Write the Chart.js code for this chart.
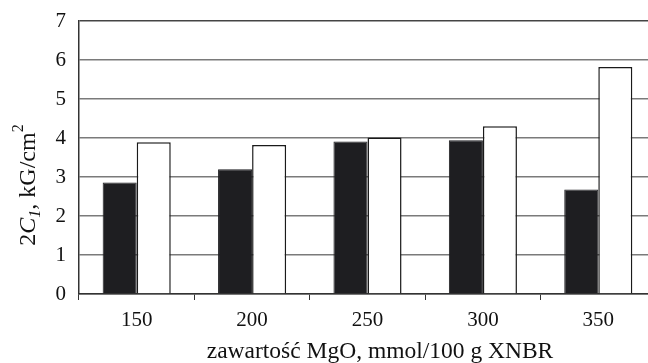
<!DOCTYPE html>
<html lang="pl">
<head>
    <meta charset="UTF-8">
    <title>2C1 vs MgO</title>
    <script src="https://cdn.jsdelivr.net/npm/chart.js"></script>
    <style>
        html, body {
            margin: 0;
            padding: 0;
            background: #fff;
            overflow: hidden;
        }
        .wrap {
            position: relative;
            width: 664px;
            height: 363px;
        }
    </style>
</head>
<body>
    <div class="wrap">
        <canvas id="chart" width="664" height="363"></canvas>
    </div>

    <script>
        // MgO content, mmol/100 g XNBR
        const categories = ['150', '200', '250', '300', '350'];
        // 2C1, kG/cm2
        const darkSeries = [2.86, 3.20, 3.91, 3.94, 2.68];
        const lightSeries = [3.89, 3.82, 4.01, 4.30, 5.82];
        const yTicks = [0, 1, 2, 3, 4, 5, 6, 7];
        const xTitle = 'zawartość MgO, mmol/100 g XNBR';

        const serif = "'Liberation Serif', 'DejaVu Serif', serif";

        // axis titles drawn by hand: italic C, sub/superscripts
        const titlesPlugin = {
            id: 'titles',
            afterDraw(chart) {
                const ctx = chart.ctx;
                const size = 24;
                const parts = [
                    { t: '2', font: `${size}px ${serif}`, dy: 0 },
                    { t: 'C', font: `italic ${size}px ${serif}`, dy: 0 },
                    { t: '1', font: `italic ${Math.round(size * 0.65)}px ${serif}`, dy: 5 },
                    { t: ', kG/cm', font: `${size}px ${serif}`, dy: 0 },
                    { t: '2', font: `${Math.round(size * 0.65)}px ${serif}`, dy: -12 }
                ];
                ctx.save();
                let total = 0;
                parts.forEach(p => { ctx.font = p.font; p.w = ctx.measureText(p.t).width; total += p.w; });
                ctx.translate(35, 185);
                ctx.rotate(-Math.PI / 2);
                ctx.fillStyle = '#111';
                ctx.textBaseline = 'alphabetic';
                let x = -total / 2;
                parts.forEach(p => {
                    ctx.font = p.font;
                    ctx.fillText(p.t, x, p.dy);
                    x += p.w;
                });
                ctx.restore();

                ctx.save();
                ctx.font = `23.5px ${serif}`;
                ctx.fillStyle = '#111';
                ctx.textAlign = 'center';
                ctx.textBaseline = 'alphabetic';
                ctx.fillText(xTitle, 380, 358);
                ctx.restore();
            }
        };

        new Chart(document.getElementById('chart'), {
            type: 'bar',
            data: {
                labels: categories,
                datasets: [{
                    data: darkSeries,
                    backgroundColor: '#1e1e21',
                    borderColor: '#1e1e21',
                    borderWidth: 1
                }, {
                    data: lightSeries,
                    backgroundColor: '#ffffff',
                    borderColor: '#1a1a1a',
                    borderWidth: 1.5
                }]
            },
            options: {
                responsive: false,
                animation: false,
                layout: { padding: { top: 21, left: 0, right: 8, bottom: 0 } },
                plugins: {
                    legend: { display: false },
                    tooltip: { enabled: false }
                },
                datasets: {
                    bar: { categoryPercentage: 0.59, barPercentage: 1 }
                },
                scales: {
                    x: {
                        grid: {
                            offset: true,
                            drawOnChartArea: false,
                            color: '#333',
                            tickLength: 6
                        },
                        border: { color: '#333', width: 1.5 },
                        ticks: {
                            color: '#111',
                            font: { family: serif, size: 21 },
                            padding: 8,
                            maxRotation: 0
                        },
                        afterFit: s => { s.height = 69; }
                    },
                    y: {
                        min: 0,
                        max: 7,
                        afterBuildTicks: s => { s.ticks = yTicks.map(v => ({ value: v })); },
                        grid: {
                            color: ctx => ctx.tick && ctx.tick.value === 7 ? '#444' : '#7a7a7a',
                            lineWidth: 1.5,
                            drawTicks: false
                        },
                        border: { color: '#333', width: 1.5 },
                        ticks: {
                            color: '#111',
                            font: { family: serif, size: 21 },
                            padding: 13
                        },
                        afterFit: s => {
                            s.width = 79;
                            s.paddingTop = 0;
                            s.paddingBottom = 0;
                        }
                    }
                }
            },
            plugins: [titlesPlugin]
        });
    </script>
</body>
</html>
